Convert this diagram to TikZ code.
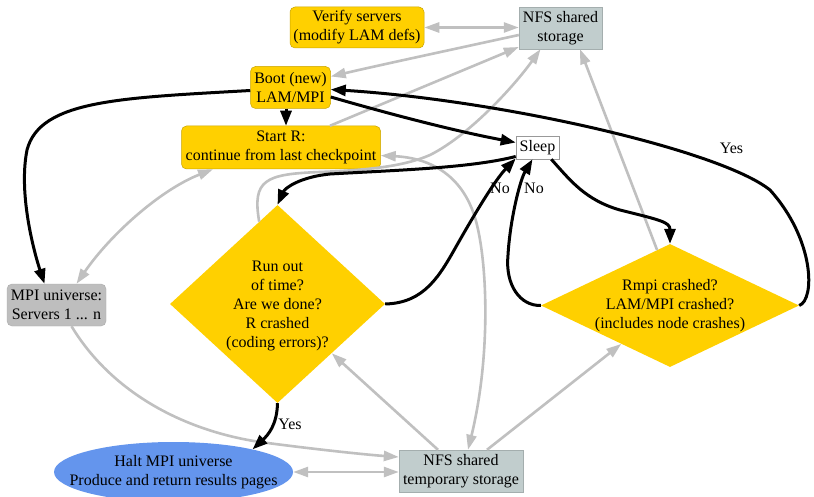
\documentclass[tikz,border=0pt]{standalone}
\usepackage{fontspec}
\setmainfont{Liberation Serif}
\usetikzlibrary{shapes.geometric,arrows.meta,calc}
\definecolor{ygold}{HTML}{FFD000}
\definecolor{nfsc}{HTML}{C1CDCD}
\definecolor{mpig}{HTML}{BEBEBE}
\definecolor{haltc}{HTML}{6495ED}
\definecolor{edgegray}{HTML}{C0C0C0}
\definecolor{yborder}{HTML}{C8A400}
\begin{document}
\begin{tikzpicture}[x=1pt,y=-1pt,
  every node/.style={font=\fontsize{16}{19}\selectfont, align=center, inner sep=0pt},
  ybox/.style={rectangle, rounded corners=5pt, fill=ygold, draw=yborder, line width=0.5pt},
  nfsbox/.style={rectangle, fill=nfsc, draw=nfsc!85!black, line width=0.4pt},
  mpibox/.style={rectangle, rounded corners=5pt, fill=mpig, draw=mpig!90!black, line width=0.4pt},
  sleepbox/.style={rectangle, fill=white, draw=black!40, line width=0.6pt},
  ydiam/.style={diamond, fill=ygold},
  blk/.style={line width=3pt, black, -{Triangle[length=15pt,width=11pt]}},
  gry/.style={line width=2.6pt, edgegray, -{Triangle[length=15pt,width=10pt]}},
  gry2/.style={line width=2.6pt, edgegray, {Triangle[length=15pt,width=10pt]}-{Triangle[length=15pt,width=10pt]}},
  lbl/.style={font=\fontsize{16}{19}\selectfont}
]
\useasboundingbox (0,0) rectangle (814,497);
\fill[white] (0,0) rectangle (814,497);

% nodes
\node[ybox, minimum width=134pt, minimum height=41pt] (verify) at (357,27.5) {Verify servers\\(modify LAM defs)};
\node[nfsbox, minimum width=83pt, minimum height=42pt] (nfs) at (560.5,28) {NFS shared\\storage};
\node[ybox, minimum width=80pt, minimum height=42pt] (boot) at (290.5,87.5) {Boot (new)\\LAM/MPI};
\node[ybox, minimum width=199pt, minimum height=43pt] (startr) at (281,147.5) {Start R:\\continue from last checkpoint};
\node[sleepbox, minimum width=43pt, minimum height=23pt] (sleep) at (537.5,147.5) {Sleep};
\node[ydiam, minimum width=215pt, minimum height=198pt] (d1) at (277.5,304) {};
\node (d1t) at (277.5,305.5) {Run out\\of time?\\Are we done?\\R crashed\\(coding errors)?};
\node[ydiam, minimum width=258pt, minimum height=123pt] (d2) at (670,305.5) {};
\node (d2t) at (670,306) {Rmpi crashed?\\LAM/MPI crashed?\\(includes node crashes)};
\node[mpibox, minimum width=99pt, minimum height=42pt] (mpi) at (56.5,305) {MPI universe:\\Servers 1 ... n};
\node[ellipse, fill=haltc, minimum width=239pt, minimum height=60pt] (halt) at (173.5,472) {};
\node (haltt) at (173.5,472.5) {Halt MPI universe\\Produce and return results pages};
\node[nfsbox, minimum width=124pt, minimum height=42pt] (nfst) at (461,471) {NFS shared\\temporary storage};

% gray connectors
\draw[gry2] (verify.east) -- (verify.east -| nfs.west);
\draw[gry] ($(nfs.west)+(0,7)$) .. controls (450,50) and (380,65) .. ($(boot.east)+(0,-11)$);
\draw[gry] ($(startr.north)+(49,0)$) -- ($(nfs.west)+(0,19)$);
\draw[gry] ($(d1.north)!0.17!(d1.west)$) .. controls (252,180) and (265,174) .. (320,172)
   .. controls (370,170) and (405,166) .. (430,155)
   .. controls (470,135) and (515,85) .. ($(nfs.south)+(-20,0)$);
\draw[gry2] ($(startr.east)+(0,8)$) .. controls (430,158) and (465,175) .. (477,225)
   .. controls (488,270) and (490,360) .. ($(nfst.north)+(7,0)$);
\draw[gry2] ($(mpi.north)+(20,0)$) .. controls (110,235) and (160,190) .. ($(startr.south)+(-68,0)$);
\draw[gry] ($(mpi.south)+(15,0)$) .. controls (110,390) and (180,430) .. (260,442)
   .. controls (320,450) and (370,455) .. ($(nfst.west)+(0,-14)$);
\draw[gry2] (halt.east) -- (halt.east -| nfst.west);
\draw[gry] ($(nfst.north)+(-23,0)$) -- (d1);
\draw[gry] ($(nfst.north)+(26,0)$) -- (d2);
\draw[gry] ($(d2.north)!0.1!(d2.west)$) -- ($(nfs.south)+(19.5,0)$);

% black connectors
\draw[blk] ($(boot.west)+(0,3)$) .. controls (120,98) and (40,100) .. (27,150)
   .. controls (18,195) and (35,255) .. ($(mpi.north)+(-12,0)$);
\draw[blk] ($(boot.south)+(-4.5,0)$) -- ($(startr.north)+(5,0)$);
\draw[blk] ($(boot.east)+(0,9.5)$) .. controls (400,117) and (460,132) .. ($(sleep.west)+(0,-5)$);
\draw[blk] ($(sleep.west)+(0,9)$) .. controls (470,168) and (400,170) .. (330,174)
   .. controls (300,177) and (285,188) .. (d1.north);
\draw[blk] (d1.east) .. controls (425,303) and (440,275) .. (457,245)
   .. controls (474,215) and (495,180) .. ($(sleep.west)+(0,11)$);
\node[lbl] (no1) at (500,188) {No};
\draw[blk] (d2.west) .. controls (520,306) and (505,285) .. (508,255)
   .. controls (510,220) and (520,180) .. ($(sleep.south)+(-5,0)$);
\node[lbl] (no2) at (534,188) {No};
\draw[blk] ($(sleep.south east)+(-8,0)$) .. controls (570,180) and (585,200) .. (620,210)
   .. controls (660,220) and (670,222) .. (d2.north);
\draw[blk] (d2.east) .. controls (815,300) and (815,240) .. (770,190)
   .. controls (720,150) and (500,100) .. ($(boot.east)+(0,2)$);
\node[lbl] (yes1) at (731.5,148) {Yes};
\draw[blk] (d1.south) .. controls (277,425) and (268,435) .. (halt.16);
\node[lbl] (yes2) at (290,424) {Yes};
\end{tikzpicture}
\end{document}
